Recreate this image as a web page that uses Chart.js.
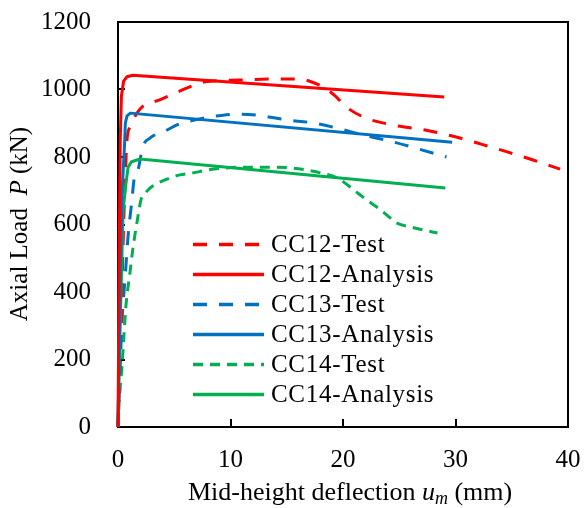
<!DOCTYPE html>
<html><head><meta charset="utf-8">
<script src="https://cdn.jsdelivr.net/npm/chart.js@4"></script>
<style>html,body{margin:0;padding:0;background:#fff;}</style>
</head><body>
<canvas id="c" width="587" height="508"></canvas>
<script>
// ---- data ----
const seriesNames = ['CC12-Test','CC12-Analysis','CC13-Test','CC13-Analysis','CC14-Test','CC14-Analysis'];
const xTickValues = [0,10,20,30,40];
const yTickValues = [0,200,400,600,800,1000,1200];
const xTitle = ['Mid-height deflection ','u','m',' (mm)'];
const yTitle = ['Axial Load  ','P',' (kN)'];

const cc12TestX = [0,0.3,0.55,0.8,1.07,1.5,2.13,3.7,6.1,7.6,10.8,13.5,15.9,16.9,18.4,19.3,20.3,22.0,24.4,27.3,29.7,32.2,34.6,36.9,39.3];
const cc12TestY = [0,350,650,850,889,920,948,969,1004,1022,1028,1031,1031,1026,1004,981,948,916,895,880,862,839,815,791,764];
const cc12AnaX = [0,0.1,0.2,0.3,0.5,0.8,1.3,29.0];
const cc12AnaY = [0,500,850,980,1025,1038,1042,978];

const cc13TestX = [0,0.36,0.62,0.89,1.24,1.42,1.78,2.2,2.84,4.36,5.24,6.84,9.33,10.84,12.36,15.0,17.3,19.4,21.8,24.2,26.7,29.2];
const cc13TestY = [0,317,436,563,673,732,761,830,856,880,895,910,924,927,924,910,901,886,865,847,824,800];
const cc13AnaX = [0,0.33,0.6,0.65,0.8,1.1,29.7];
const cc13AnaY = [0,673,850,900,922,930,844];

const cc14TestX = [0,0.09,0.18,0.36,0.53,0.71,1.07,1.33,1.78,2.04,2.5,2.84,3.56,4.62,5.51,6.67,7.91,9.33,11.1,14.1,15.6,16.8,18.0,19.5,20.4,21.2,22.1,23.0,23.9,24.8,26.0,27.1,28.4];
const cc14TestY = [0,65,110,184,273,361,459,530,625,673,696,708,723,738,747,753,761,767,770,770,767,761,753,738,717,696,673,652,628,604,593,584,575];
const cc14AnaX = [0,0.1,0.25,0.45,0.7,0.9,1.2,1.96,29.1];
const cc14AnaY = [0,180,380,640,720,770,786,794,708];

// ---- styles ----
const FONT = "'Liberation Serif','Times New Roman',serif";
const RED = '#FF0000', BLUE = '#0070C0', GREEN = '#00B050';
const pts = (xs, ys) => xs.map((x, i) => ({x, y: ys[i]}));

function ds(label, xs, ys, color, dash, isTest) {
  return {
    label, data: pts(xs, ys), borderColor: color, backgroundColor: color,
    borderWidth: 3, borderDash: dash, pointRadius: 0, showLine: true, fill: false,
    tension: isTest ? 0.4 : 0, cubicInterpolationMode: isTest ? 'monotone' : 'default',
    order: isTest ? 2 : 1, clip: false, borderCapStyle: 'butt', borderJoinStyle: 'round'
  };
}

const datasets = [
  ds(seriesNames[0], cc12TestX, cc12TestY, RED, [14,12], true),
  ds(seriesNames[1], cc12AnaX, cc12AnaY, RED, [], false),
  ds(seriesNames[2], cc13TestX, cc13TestY, BLUE, [14,12], true),
  ds(seriesNames[3], cc13AnaX, cc13AnaY, BLUE, [], false),
  ds(seriesNames[4], cc14TestX, cc14TestY, GREEN, [10,7], true),
  ds(seriesNames[5], cc14AnaX, cc14AnaY, GREEN, [], false),
];

const decor = {
  id: 'decor',
  beforeDatasetsDraw(chart) {
    const {ctx, chartArea: a, scales: {x, y}} = chart;
    ctx.save();
    ctx.strokeStyle = '#000';
    ctx.lineWidth = 2;
    ctx.strokeRect(a.left, a.top, a.right - a.left, a.bottom - a.top);
    ctx.beginPath();
    xTickValues.forEach(v => { const px = Math.round(x.getPixelForValue(v)) ; ctx.moveTo(px, a.bottom); ctx.lineTo(px, a.bottom - 8); });
    yTickValues.forEach(v => { const py = Math.round(y.getPixelForValue(v)); ctx.moveTo(a.left, py); ctx.lineTo(a.left + 7, py); });
    ctx.stroke();
    ctx.restore();
  },
  afterDraw(chart) {
    const {ctx} = chart;
    ctx.save();
    ctx.fillStyle = '#000';
    // legend
    ctx.textBaseline = 'middle';
    ctx.textAlign = 'left';
    ctx.font = '25px ' + FONT;
    try { ctx.letterSpacing = '0.7px'; } catch (e) {}
    chart.data.datasets.forEach((d, i) => {
      const yy = 244.5 + i * 30;
      ctx.save();
      ctx.strokeStyle = d.borderColor;
      ctx.lineWidth = 3.5;
      ctx.setLineDash(d.borderDash || []);
      ctx.beginPath(); ctx.moveTo(193, yy); ctx.lineTo(264, yy); ctx.stroke();
      ctx.restore();
      ctx.fillText(d.label, 271, yy + 1);
    });
    try { ctx.letterSpacing = '0px'; } catch (e) {}
    // x title
    ctx.textBaseline = 'alphabetic';
    let xx = 188; const by = 500;
    const parts = [
      [xTitle[0], '26px ' + FONT, 0],
      [xTitle[1], 'italic 26px ' + FONT, 0],
      [xTitle[2], 'italic 18px ' + FONT, 4],
      [xTitle[3], '26px ' + FONT, 0]
    ];
    parts.forEach(([t, f, dy]) => { ctx.font = f; ctx.fillText(t, xx, by + dy); xx += ctx.measureText(t).width; });
    // y title
    const yparts = [
      [yTitle[0], '25px ' + FONT],
      [yTitle[1], 'italic 25px ' + FONT],
      [yTitle[2], '25px ' + FONT]
    ];
    let total = 0;
    yparts.forEach(([t, f]) => { ctx.font = f; total += ctx.measureText(t).width; });
    ctx.translate(27, 224);
    ctx.rotate(-Math.PI / 2);
    let sx = -total / 2;
    yparts.forEach(([t, f]) => { ctx.font = f; ctx.fillText(t, sx, 0); sx += ctx.measureText(t).width; });
    ctx.restore();
  }
};

const tickFont = {family: FONT, size: 25, lineHeight: 1.2};
new Chart(document.getElementById('c'), {
  type: 'scatter',
  data: {datasets},
  options: {
    responsive: false, animation: false, devicePixelRatio: 1,
    layout: {padding: {top: 22, right: 19, left: 0, bottom: 0}},
    plugins: {legend: {display: false}, tooltip: {enabled: false}},
    scales: {
      x: {
        type: 'linear', min: 0, max: 40,
        afterBuildTicks: s => { s.ticks = xTickValues.map(v => ({value: v})); },
        afterFit: s => { s.height = 81; s.paddingLeft = 0; s.paddingRight = 0; },
        grid: {display: false, drawTicks: false},
        border: {display: false},
        ticks: {font: tickFont, color: '#000', padding: 18, maxRotation: 0, callback: v => String(v)}
      },
      y: {
        type: 'linear', min: 0, max: 1200,
        afterBuildTicks: s => { s.ticks = yTickValues.map(v => ({value: v})); },
        afterFit: s => { s.width = 118; s.paddingTop = 0; s.paddingBottom = 0; },
        grid: {display: false, drawTicks: false},
        border: {display: false},
        ticks: {font: tickFont, color: '#000', padding: 27, callback: v => String(v)}
      }
    }
  },
  plugins: [decor]
});
</script>
</body></html>
